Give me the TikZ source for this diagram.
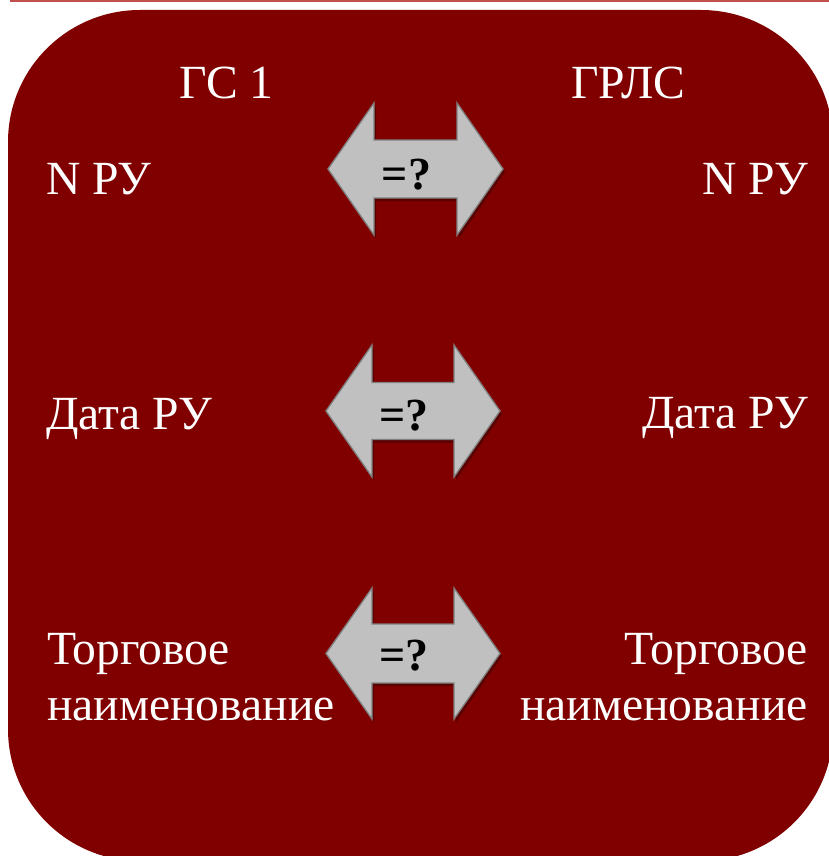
\documentclass[tikz,border=0pt]{standalone}
\usepackage{fontspec}
\setmainfont{Liberation Serif}
\definecolor{boxred}{RGB}{128,0,0}
\definecolor{arrowgray}{RGB}{192,192,192}
\definecolor{arrowedge}{RGB}{128,128,128}
\definecolor{topline}{RGB}{192,80,77}
\begin{document}
\begin{tikzpicture}[x=1pt,y=-1pt,
  lbl/.style={inner sep=0pt,text=white,font=\fontsize{47.6}{56}\selectfont},
  qlbl/.style={inner sep=0pt,text=black,font=\fontsize{46}{56}\selectfont\bfseries},
  dbl/.style={fill=arrowgray,draw=arrowedge,line width=1.3pt,line join=miter},
  dblshadow/.style={fill=black,opacity=0.3}]
\useasboundingbox (0,0) rectangle (829,856);
\clip (0,0) rectangle (829,856);
\draw[topline,line width=2pt] (10,1) -- (829,1);
\fill[boxred,rounded corners=132pt] (8,10) rectangle (833,861);
% arrows: left tip, left head base, right head base, right tip, centre y, head half, shaft half
\foreach \lt/\lb/\rb/\rt/\cy/\hh/\sh/\nm in {328/374/457/503/169/66/29/a1,326/372/454/500/411/66/28.5/a2,326/372/454/500/653.5/65.5/29.5/a3}{
  \fill[dblshadow] ([xshift=2pt,yshift=-3pt]\lt,\cy) -- ++(\lb-\lt,-\hh) -- ++(0,\hh-\sh) -- ++(\rb-\lb,0) -- ++(0,\sh-\hh) -- ++(\rt-\rb,\hh) -- ++(\rb-\rt,\hh) -- ++(0,\sh-\hh) -- ++(\lb-\rb,0) -- ++(0,\hh-\sh) -- cycle;
  \path[dbl] (\lt,\cy) -- (\lb,\cy-\hh) -- (\lb,\cy-\sh) -- (\rb,\cy-\sh) -- (\rb,\cy-\hh) -- (\rt,\cy) -- (\rb,\cy+\hh) -- (\rb,\cy+\sh) -- (\lb,\cy+\sh) -- (\lb,\cy+\hh) -- cycle;
}
\node[qlbl,anchor=base] (q1) at (406.5,189) {=?};
\node[qlbl,anchor=base] (q2) at (404,430) {=?};
\node[qlbl,anchor=base] (q3) at (404,670) {=?};
% headers
\node[lbl,anchor=base west] (gs) at (179,99) {ГС 1};
\node[lbl,anchor=base west] (grls) at (571,99) {ГРЛС};
% left column
\node[lbl,anchor=base west] (nl) at (46,194) {N РУ};
\node[lbl,anchor=base west] (dl) at (46,429) {Дата РУ};
\node[lbl,anchor=base west] (tl1) at (47,664) {Торговое};
\node[lbl,anchor=base west] (tl2) at (47,720) {наименование};
% right column
\node[lbl,anchor=base east] (nr) at (808,194) {N РУ};
\node[lbl,anchor=base east] (dr) at (808,428) {Дата РУ};
\node[lbl,anchor=base east] (tr1) at (808,664) {Торговое};
\node[lbl,anchor=base east] (tr2) at (808,720) {наименование};
\end{tikzpicture}
\end{document}
